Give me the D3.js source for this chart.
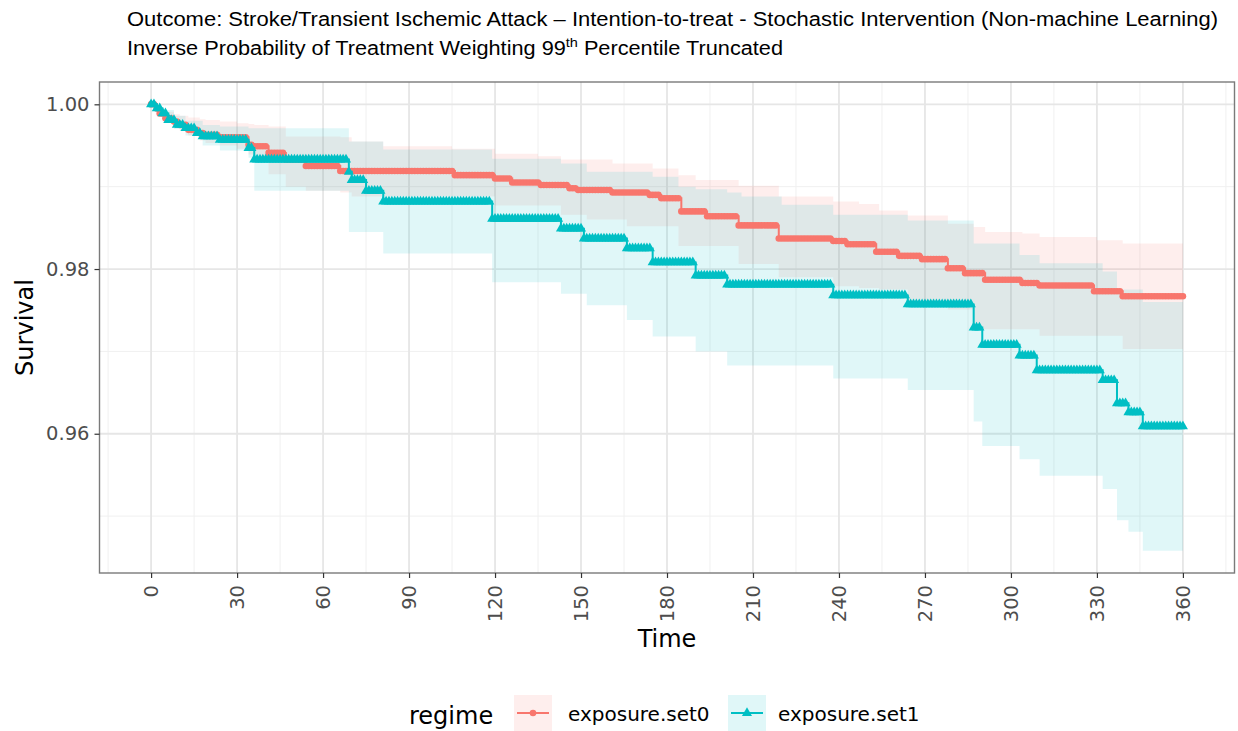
<!DOCTYPE html>
<html>
<head>
<meta charset="utf-8">
<script src="https://cdn.jsdelivr.net/npm/d3@7"></script>
<style>
  html, body { margin: 0; padding: 0; background: #fff; }
  svg { display: block; }
</style>
</head>
<body>
<svg id="chart" width="1238" height="731"></svg>
<script>
// Survival estimates per regime (step functions: value holds from each time until the next)
const set0Time = [0, 2, 3, 5, 8, 10, 13, 17, 19, 24, 34, 36, 41, 47, 54, 66, 106, 120, 126, 136,
  146, 149, 161, 174, 178, 185, 194, 205, 219, 238, 243, 253, 261, 269, 278, 284, 291, 304, 310, 329, 339];
const set0Surv = [1.0, 0.9995, 0.9989, 0.9983, 0.9979, 0.9975, 0.9969, 0.9965, 0.9963, 0.9960,
  0.9951, 0.9949, 0.9941, 0.9933, 0.9925, 0.9919, 0.9914, 0.9910, 0.9905, 0.9902,
  0.9898, 0.9896, 0.9893, 0.9890, 0.9886, 0.9870, 0.9864, 0.9853, 0.9837, 0.9834,
  0.9830, 0.9821, 0.9816, 0.9812, 0.9801, 0.9795, 0.9787, 0.9783, 0.9780, 0.9773, 0.9767];

const set1Time = [0, 2, 4, 6, 9, 12, 16, 18, 24, 34, 36, 69, 70, 75, 81, 119, 143, 151, 166, 175,
  190, 201, 238, 264, 287, 290, 303, 309, 332, 337, 341, 346];
const set1Surv = [1.0, 0.9995, 0.9989, 0.9981, 0.9975, 0.9971, 0.9965, 0.9961, 0.9957, 0.9947,
  0.9933, 0.9918, 0.9908, 0.9895, 0.9882, 0.9861, 0.9849, 0.9837, 0.9825, 0.9808,
  0.9792, 0.9781, 0.9768, 0.9757, 0.9729, 0.9708, 0.9695, 0.9677, 0.9665, 0.9637, 0.9626, 0.9609];

// Confidence bands
const set0BandTime = [0, 2, 3, 5, 8, 10, 13, 17, 19, 24, 30, 34, 36, 41, 47, 54, 66, 70, 81, 105,
  120, 135, 143, 152, 161, 166, 175, 184, 190, 205, 219, 238, 247, 254, 264, 278, 287, 291, 304, 310,
  330, 339, 360];
const set0Upper = [1.0, 0.9996, 0.9993, 0.9991, 0.9988, 0.9986, 0.9984, 0.9982, 0.9981, 0.9979,
  0.9977, 0.9976, 0.9975, 0.9973, 0.9961, 0.9961, 0.9960, 0.9955, 0.9949, 0.9946,
  0.9940, 0.9937, 0.9933, 0.9933, 0.9928, 0.9928, 0.9922, 0.9914, 0.9908, 0.9901,
  0.9888, 0.9882, 0.9879, 0.9871, 0.9865, 0.9855, 0.9851, 0.9845, 0.9843, 0.9839,
  0.9835, 0.9831, 0.9831];
const set0Lower = [1.0, 0.9993, 0.9986, 0.9978, 0.9972, 0.9968, 0.9962, 0.9956, 0.9953, 0.9950,
  0.9946, 0.9939, 0.9930, 0.9915, 0.9900, 0.9895, 0.9893, 0.9888, 0.9888, 0.9888,
  0.9877, 0.9877, 0.9866, 0.9860, 0.9860, 0.9852, 0.9852, 0.9828, 0.9828, 0.9806,
  0.9790, 0.9779, 0.9777, 0.9775, 0.9759, 0.9751, 0.9727, 0.9727, 0.9727, 0.9719,
  0.9719, 0.9703, 0.9703];

const set1BandTime = [0, 2, 4, 8, 12, 18, 24, 34, 36, 69, 81, 119, 143, 152, 166, 175, 184, 190,
  201, 206, 220, 238, 264, 287, 290, 303, 310, 332, 337, 341, 346, 360];
const set1Upper = [1.0, 0.9996, 0.9993, 0.9986, 0.9980, 0.9975, 0.9973, 0.9971, 0.9971, 0.9955,
  0.9945, 0.9934, 0.9928, 0.9918, 0.9918, 0.9912, 0.9900, 0.9897, 0.9893, 0.9888,
  0.9878, 0.9866, 0.9859, 0.9831, 0.9831, 0.9817, 0.9807, 0.9797, 0.9775, 0.9775,
  0.9760, 0.9760];
const set1Lower = [1.0, 0.9992, 0.9982, 0.9970, 0.9962, 0.9950, 0.9944, 0.9935, 0.9895, 0.9845,
  0.9819, 0.9784, 0.9770, 0.9756, 0.9738, 0.9718, 0.9718, 0.9700, 0.9683, 0.9683,
  0.9683, 0.9667, 0.9653, 0.9615, 0.9585, 0.9569, 0.9549, 0.9533, 0.9495, 0.9481,
  0.9458, 0.9458];

const regimes = ["exposure.set0", "exposure.set1"];
const regimeColors = ["#F8766D", "#00BFC4"];
const xTicks = [0, 30, 60, 90, 120, 150, 180, 210, 240, 270, 300, 330, 360];
const xMinor = [-15, 15, 45, 75, 105, 135, 165, 195, 225, 255, 285, 315, 345, 375];
const yTicks = [0.96, 0.98, 1.00];
const yMinor = [0.95, 0.97, 0.99];
const endTime = 360;

const titleLine1 = "Outcome: Stroke/Transient Ischemic Attack \u2013 Intention-to-treat - Stochastic Intervention (Non-machine Learning)";
const titleLine2a = "Inverse Probability of Treatment Weighting 99";
const titleLine2sup = "th";
const titleLine2b = " Percentile Truncated";

const svg = d3.select("#chart");
const panel = { left: 99.5, right: 1234.5, top: 82, bottom: 573 };

// ggplot-style 5% expansion of the data range
const xPad = (endTime - 0) * 0.05;
const x = d3.scaleLinear().domain([0 - xPad, endTime + xPad]).range([panel.left, panel.right]);
const allY = [].concat(set0Upper, set0Lower, set1Upper, set1Lower);
const yLo = d3.min(allY), yHi = d3.max(allY);
const yPad = (yHi - yLo) * 0.05;
const y = d3.scaleLinear().domain([yLo - yPad, yHi + yPad]).range([panel.bottom, panel.top]);

const tickFont = "DejaVu Sans, sans-serif";

// Title (two lines, second with superscript)
svg.append("text")
  .attr("x", 127).attr("y", 26)
  .attr("font-family", "Liberation Sans, Arial, sans-serif")
  .attr("font-size", 19.5).attr("fill", "#000")
  .attr("textLength", 1091).attr("lengthAdjust", "spacingAndGlyphs")
  .text(titleLine1);
const t2 = svg.append("text")
  .attr("x", 127).attr("y", 55)
  .attr("font-family", "Liberation Sans, Arial, sans-serif")
  .attr("font-size", 19.5).attr("fill", "#000")
  .attr("textLength", 656).attr("lengthAdjust", "spacingAndGlyphs");
t2.append("tspan").text(titleLine2a);
t2.append("tspan").attr("font-size", 13).attr("dy", -8).text(titleLine2sup);
t2.append("tspan").attr("dy", 8).text(titleLine2b);

// Panel grid
const grid = svg.append("g");
grid.selectAll(".xminor").data(xMinor).join("line")
  .attr("x1", d => x(d)).attr("x2", d => x(d))
  .attr("y1", panel.top).attr("y2", panel.bottom)
  .attr("stroke", "#f0f0f0").attr("stroke-width", 1);
grid.selectAll(".yminor").data(yMinor).join("line")
  .attr("y1", d => y(d)).attr("y2", d => y(d))
  .attr("x1", panel.left).attr("x2", panel.right)
  .attr("stroke", "#f0f0f0").attr("stroke-width", 1);
grid.selectAll(".xmajor").data(xTicks).join("line")
  .attr("x1", d => x(d)).attr("x2", d => x(d))
  .attr("y1", panel.top).attr("y2", panel.bottom)
  .attr("stroke", "#e6e6e6").attr("stroke-width", 1.8);
grid.selectAll(".ymajor").data(yTicks).join("line")
  .attr("y1", d => y(d)).attr("y2", d => y(d))
  .attr("x1", panel.left).attr("x2", panel.right)
  .attr("stroke", "#e6e6e6").attr("stroke-width", 1.8);

// Helpers for step series
function bandRows(times, lower, upper) {
  return times.map((t, i) => ({ t, lo: lower[i], hi: upper[i] }));
}
function lineRows(times, surv) {
  const rows = times.map((t, i) => ({ t, s: surv[i] }));
  rows.push({ t: endTime, s: surv[surv.length - 1] });
  return rows;
}
function valueAt(times, surv, day) {
  return surv[d3.bisectRight(times, day) - 1];
}

const area = d3.area()
  .curve(d3.curveStepAfter)
  .x(d => x(d.t)).y0(d => y(d.lo)).y1(d => y(d.hi));
const line = d3.line()
  .curve(d3.curveStepAfter)
  .x(d => x(d.t)).y(d => y(d.s));

const bands = [
  bandRows(set0BandTime, set0Lower, set0Upper),
  bandRows(set1BandTime, set1Lower, set1Upper)
];
const lines = [lineRows(set0Time, set0Surv), lineRows(set1Time, set1Surv)];
const steps = [[set0Time, set0Surv], [set1Time, set1Surv]];
const symbols = [d3.symbolCircle, d3.symbolTriangle];
const symbolSizes = [34, 44];
const bandAlpha = 0.12;

const plot = svg.append("g");
bands.forEach((b, i) => {
  plot.append("path").datum(b)
    .attr("d", area)
    .attr("fill", regimeColors[i]).attr("fill-opacity", bandAlpha);
});
const days = d3.range(0, endTime + 1);
lines.forEach((l, i) => {
  plot.append("path").datum(l)
    .attr("d", line)
    .attr("fill", "none").attr("stroke", regimeColors[i]).attr("stroke-width", 2);
  const sym = d3.symbol().type(symbols[i]).size(symbolSizes[i]);
  plot.append("g").selectAll("path").data(days).join("path")
    .attr("transform", d => `translate(${x(d)},${y(valueAt(steps[i][0], steps[i][1], d))})`)
    .attr("d", sym)
    .attr("fill", regimeColors[i]);
});

// Panel border
svg.append("rect")
  .attr("x", panel.left).attr("y", panel.top)
  .attr("width", panel.right - panel.left).attr("height", panel.bottom - panel.top)
  .attr("fill", "none").attr("stroke", "#7a7a7a").attr("stroke-width", 1.4);

// Axes
const xAxis = d3.axisBottom(x).tickValues(xTicks).tickSize(5).tickPadding(6).tickFormat(d3.format("d"));
const gx = svg.append("g").attr("transform", `translate(0,${panel.bottom})`).call(xAxis);
gx.select(".domain").remove();
gx.selectAll(".tick line").attr("stroke", "#333").attr("stroke-width", 1.2);
gx.selectAll(".tick text")
  .attr("font-family", tickFont).attr("font-size", 19.5).attr("fill", "#4d4d4d")
  .attr("transform", "rotate(-90)")
  .attr("x", -12).attr("y", 0).attr("dy", "0.35em")
  .attr("text-anchor", "end");

const yAxis = d3.axisLeft(y).tickValues(yTicks).tickSize(5).tickPadding(5).tickFormat(d3.format(".2f"));
const gy = svg.append("g").attr("transform", `translate(${panel.left},0)`).call(yAxis);
gy.select(".domain").remove();
gy.selectAll(".tick line").attr("stroke", "#333").attr("stroke-width", 1.2);
gy.selectAll(".tick text")
  .attr("font-family", tickFont).attr("font-size", 19.5).attr("fill", "#4d4d4d");

// Axis titles
svg.append("text")
  .attr("x", (panel.left + panel.right) / 2).attr("y", 647)
  .attr("text-anchor", "middle")
  .attr("font-family", tickFont).attr("font-size", 24).attr("fill", "#000")
  .text("Time");
svg.append("text")
  .attr("transform", `translate(33,${(panel.top + panel.bottom) / 2}) rotate(-90)`)
  .attr("text-anchor", "middle")
  .attr("font-family", tickFont).attr("font-size", 24).attr("fill", "#000")
  .text("Survival");

// Legend
const legend = svg.append("g");
legend.append("text")
  .attr("x", 409).attr("y", 724)
  .attr("font-family", tickFont).attr("font-size", 24).attr("fill", "#000")
  .text("regime");
const keyX = [514, 728];
const labelX = [568, 778];
regimes.forEach((r, i) => {
  const kx = keyX[i], ky = 695, ks = 38;
  legend.append("rect")
    .attr("x", kx).attr("y", ky).attr("width", ks).attr("height", ks)
    .attr("fill", regimeColors[i]).attr("fill-opacity", bandAlpha);
  legend.append("line")
    .attr("x1", kx + 3).attr("x2", kx + ks - 3)
    .attr("y1", ky + ks / 2 - 1).attr("y2", ky + ks / 2 - 1)
    .attr("stroke", regimeColors[i]).attr("stroke-width", 2);
  legend.append("path")
    .attr("transform", `translate(${kx + ks / 2},${ky + ks / 2 - 1})`)
    .attr("d", d3.symbol().type(symbols[i]).size(symbolSizes[i])())
    .attr("fill", regimeColors[i]);
  legend.append("text")
    .attr("x", labelX[i]).attr("y", 721)
    .attr("font-family", tickFont).attr("font-size", 20).attr("fill", "#000")
    .text(r);
});
</script>
</body>
</html>
